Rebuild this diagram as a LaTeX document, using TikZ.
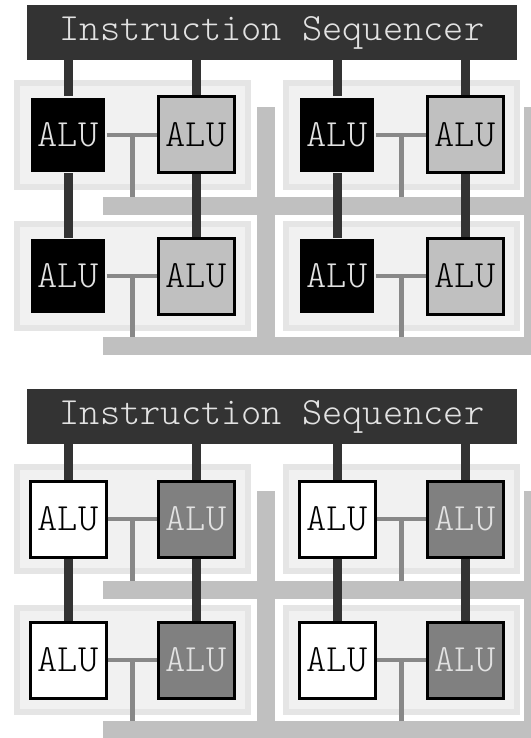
\documentclass[tikz,border=0pt]{standalone}
\usepackage{fontspec}
\setmonofont{Latin Modern Mono Light}
\usepackage{xcolor}
\usetikzlibrary{positioning, calc}
\definecolor{busgray}{HTML}{C0C0C0}
\definecolor{linkgray}{HTML}{888888}
\definecolor{wiregray}{HTML}{333333}
\definecolor{panelfill}{HTML}{F1F1F1}
\definecolor{panelline}{HTML}{E5E5E5}
\definecolor{alugray}{HTML}{C0C0C0}
\definecolor{aludark}{HTML}{808080}
\definecolor{alutext}{HTML}{E2E2E2}

\begin{document}
\begin{tikzpicture}[x=1pt,y=-1pt,
        seq/.style={fill=wiregray, text=alutext, minimum width=490, minimum height=55, inner sep=0, font=\fontsize{38.5}{40}\selectfont\ttfamily},
        panel/.style={fill=panelfill, draw=panelline, line width=6, minimum width=231, minimum height=104},
        alu/.style={draw=black, line width=3, minimum size=76, inner sep=0, font=\fontsize{38.5}{40}\selectfont\ttfamily},
        black alu/.style={alu, fill=black, draw=none, minimum size=74, text=alutext},
        light alu/.style={alu, fill=alugray},
        white alu/.style={alu, fill=white},
        dark alu/.style={alu, fill=aludark, text=alutext},
        wire/.style={wiregray, line width=9},
        link/.style={linkgray, line width=4}]
    \useasboundingbox (0,0) rectangle (530,738);

    % upper array
    \fill[busgray] (103,197) rectangle (530,215);
    \fill[busgray] (103,337) rectangle (530,355);
    \fill[busgray] (257,107) rectangle (275,355);
    \fill[busgray] (524,107) rectangle (542,355);
    \coordinate (h1) at (0,197);
    \coordinate (h2) at (0,337);

    \node[panel] (p11) at (132,135) {};
    \node[panel] (p12) at (401,135) {};
    \node[panel] (p21) at (132,276) {};
    \node[panel] (p22) at (401,276) {};

    \node[seq] (s1) at (272,32.5) {Instruction Sequencer};

    \node[black alu] (t11) at (68,135) {ALU};
    \node[light alu] (t12) at (196,135) {ALU};
    \node[black alu] (t13) at (337,135) {ALU};
    \node[light alu] (t14) at (465,135) {ALU};
    \node[black alu] (t21) at (68,276) {ALU};
    \node[light alu] (t22) at (196,276) {ALU};
    \node[black alu] (t23) at (337,276) {ALU};
    \node[light alu] (t24) at (465,276) {ALU};

    \draw[wire] (s1.south -| t11.north) -- (t11.north);
    \draw[wire] (s1.south -| t12.north) -- (t12.north);
    \draw[wire] (s1.south -| t13.north) -- (t13.north);
    \draw[wire] (s1.south -| t14.north) -- (t14.north);
    \draw[wire] (t11.south) -- (t21.north);
    \draw[wire] (t12.south) -- (t22.north);
    \draw[wire] (t13.south) -- (t23.north);
    \draw[wire] (t14.south) -- (t24.north);

    \draw[link] (t11.east) -- (t12.west);
    \draw[link] (t13.east) -- (t14.west);
    \draw[link] (t21.east) -- (t22.west);
    \draw[link] (t23.east) -- (t24.west);
    \draw[linkgray, line width=5] (p11.center) -- (p11.center |- h1);
    \draw[linkgray, line width=5] (p12.center) -- (p12.center |- h1);
    \draw[linkgray, line width=5] (p21.center) -- (p21.center |- h2);
    \draw[linkgray, line width=5] (p22.center) -- (p22.center |- h2);

    % lower array
    \fill[busgray] (103,581) rectangle (530,599);
    \fill[busgray] (103,721) rectangle (530,739);
    \fill[busgray] (257,491) rectangle (275,739);
    \fill[busgray] (524,491) rectangle (542,739);
    \coordinate (h3) at (0,581);
    \coordinate (h4) at (0,721);

    \node[panel] (q11) at (132,519) {};
    \node[panel] (q12) at (401,519) {};
    \node[panel] (q21) at (132,660) {};
    \node[panel] (q22) at (401,660) {};

    \node[seq] (s2) at (272,416.5) {Instruction Sequencer};

    \node[white alu] (b11) at (68,519) {ALU};
    \node[dark alu] (b12) at (196,519) {ALU};
    \node[white alu] (b13) at (337,519) {ALU};
    \node[dark alu] (b14) at (465,519) {ALU};
    \node[white alu] (b21) at (68,660) {ALU};
    \node[dark alu] (b22) at (196,660) {ALU};
    \node[white alu] (b23) at (337,660) {ALU};
    \node[dark alu] (b24) at (465,660) {ALU};

    \draw[wire] (s2.south -| b11.north) -- (b11.north);
    \draw[wire] (s2.south -| b12.north) -- (b12.north);
    \draw[wire] (s2.south -| b13.north) -- (b13.north);
    \draw[wire] (s2.south -| b14.north) -- (b14.north);
    \draw[wire] (b11.south) -- (b21.north);
    \draw[wire] (b12.south) -- (b22.north);
    \draw[wire] (b13.south) -- (b23.north);
    \draw[wire] (b14.south) -- (b24.north);

    \draw[link] (b11.east) -- (b12.west);
    \draw[link] (b13.east) -- (b14.west);
    \draw[link] (b21.east) -- (b22.west);
    \draw[link] (b23.east) -- (b24.west);
    \draw[linkgray, line width=5] (q11.center) -- (q11.center |- h3);
    \draw[linkgray, line width=5] (q12.center) -- (q12.center |- h3);
    \draw[linkgray, line width=5] (q21.center) -- (q21.center |- h4);
    \draw[linkgray, line width=5] (q22.center) -- (q22.center |- h4);
\end{tikzpicture}
\end{document}
